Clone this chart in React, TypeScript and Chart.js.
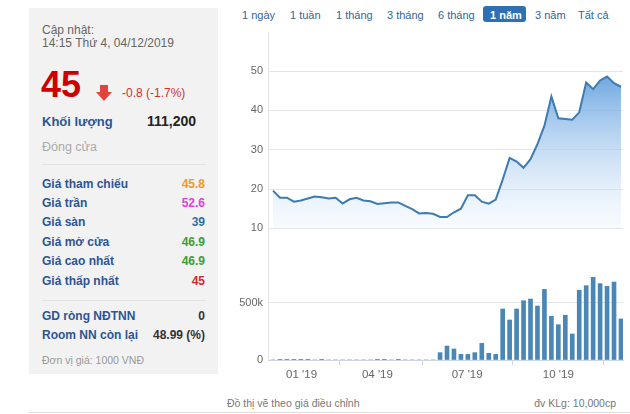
import React, { useEffect, useRef } from "react";
import { Chart, registerables } from "chart.js";

Chart.register(...registerables);

// Weekly closing price (thousand VND)
const priceValues: number[] = [
  19.6, 17.8, 17.8, 16.8, 17.1, 17.6, 18.1, 17.9, 17.6, 17.8,
  16.3, 17.4, 17.8, 17.1, 16.9, 16.2, 16.4, 16.6, 16.6, 15.7,
  14.9, 13.8, 13.9, 13.7, 12.9, 12.9, 14.1, 15.0, 18.4, 18.4,
  16.8, 16.3, 17.3, 22.4, 27.9, 27.0, 25.4, 27.6, 31.4, 36.1,
  43.5, 38.0, 37.8, 37.6, 39.5, 47.1, 45.4, 47.6, 48.6, 46.9,
  46.0,
];

// Weekly volume
const volumeValues: number[] = [
  0, 6000, 6000, 6000, 6000, 6000, 0, 6000, 0, 0,
  0, 0, 0, 0, 0, 6000, 6000, 0, 6000, 0,
  0, 0, 0, 0, 64000, 122000, 96000, 49000, 49000, 64000,
  145000, 58000, 49000, 445000, 349000, 445000, 517000, 532000, 471000, 616000,
  381000, 308000, 390000, 227000, 608000, 648000, 721000, 666000, 642000, 680000,
  358000,
];

const xTickPositions: number[] = [4.1, 15, 27.9, 41];
const xTickLabels: string[] = ["01 '19", "04 '19", "07 '19", "10 '19"];
const priceTicks: number[] = [10, 20, 30, 40, 50];
const volumeTicks: number[] = [0, 500000];

const rangeButtons: string[] = ["1 ngày", "1 tuần", "1 tháng", "3 tháng", "6 tháng", "1 năm", "3 năm", "Tất cả"];

const FONT = "'Liberation Sans', Arial, sans-serif";
const X_MIN = -0.72;
const X_MAX = 50.29;

function PriceChart() {
  const ref = useRef<HTMLCanvasElement | null>(null);
  useEffect(() => {
    if (!ref.current) return;
    const chart = new Chart(ref.current, {
      type: "line",
      data: {
        datasets: [
          {
            data: priceValues.map((v, i) => ({ x: i, y: v })),
            borderColor: "#3d7bb2",
            borderWidth: 2,
            pointRadius: 0,
            tension: 0,
            fill: "start",
            backgroundColor: (context: any) => {
              const { ctx, chartArea } = context.chart;
              if (!chartArea) return "rgba(100,160,220,0.4)";
              const g = ctx.createLinearGradient(0, chartArea.top, 0, chartArea.bottom);
              g.addColorStop(0, "rgba(96,158,222,0.95)");
              g.addColorStop(1, "rgba(225,238,251,0.25)");
              return g;
            },
          },
        ],
      },
      options: {
        animation: false,
        responsive: false,
        layout: { padding: { top: 21, right: 7, bottom: 11, left: 0 } },
        plugins: { legend: { display: false }, tooltip: { enabled: false } },
        scales: {
          x: { type: "linear", min: X_MIN, max: X_MAX, display: false },
          y: {
            min: 10,
            max: 50,
            afterBuildTicks: (s: any) => {
              s.ticks = priceTicks.map((v) => ({ value: v }));
            },
            afterFit: (s: any) => {
              s.width = 43;
            },
            ticks: { padding: 5, color: "#666", font: { size: 11, family: FONT } },
            grid: { color: "#e6e6e6", drawTicks: false },
            border: { display: false },
          },
        },
      },
    } as any);
    return () => chart.destroy();
  }, []);
  return (
    <canvas
      ref={ref}
      width={405}
      height={190}
      style={{ position: "absolute", left: 225, top: 50, width: 405, height: 190 }}
    />
  );
}

function VolumeChart() {
  const ref = useRef<HTMLCanvasElement | null>(null);
  useEffect(() => {
    if (!ref.current) return;
    const chart = new Chart(ref.current, {
      type: "bar",
      data: {
        datasets: [
          {
            data: volumeValues.map((v, i) => ({ x: i, y: v })),
            backgroundColor: "#4a87b6",
            barThickness: 4,
          },
        ],
      },
      options: {
        animation: false,
        responsive: false,
        layout: { padding: { top: 14, right: 7, bottom: 0, left: 0 } },
        plugins: { legend: { display: false }, tooltip: { enabled: false } },
        scales: {
          x: {
            type: "linear",
            min: X_MIN,
            max: X_MAX,
            offset: false,
            afterBuildTicks: (s: any) => {
              s.ticks = xTickPositions.map((v) => ({ value: v }));
            },
            afterFit: (s: any) => {
              s.height = 30;
            },
            ticks: {
              autoSkip: false,
              maxRotation: 0,
              padding: 3,
              color: "#666",
              font: { size: 11.5, family: FONT },
              callback: (_v: any, i: number) => xTickLabels[i],
            },
            grid: { drawOnChartArea: false, drawTicks: true, tickLength: 5, color: "#ccd6eb" },
            border: { display: true, color: "#ccd6eb" },
          },
          y: {
            min: 0,
            max: 750000,
            afterBuildTicks: (s: any) => {
              s.ticks = volumeTicks.map((v) => ({ value: v }));
            },
            afterFit: (s: any) => {
              s.width = 43;
            },
            ticks: {
              padding: 5,
              color: "#666",
              font: { size: 11, family: FONT },
              callback: (v: any) => (v === 0 ? "0" : v / 1000 + "k"),
            },
            grid: { color: "#e6e6e6", drawTicks: false },
            border: { display: false },
          },
        },
      },
    } as any);
    return () => chart.destroy();
  }, []);
  return (
    <canvas
      ref={ref}
      width={405}
      height={130}
      style={{ position: "absolute", left: 225, top: 260, width: 405, height: 130 }}
    />
  );
}

const T = (props: {
  x: number;
  cy: number;
  size: number;
  color: string;
  bold?: boolean;
  right?: boolean;
  children: React.ReactNode;
}) => {
  const lh = Math.round(props.size * 1.3);
  const style: React.CSSProperties = {
    position: "absolute",
    top: props.cy - lh / 2,
    height: lh,
    lineHeight: lh + "px",
    fontSize: props.size,
    color: props.color,
    fontWeight: props.bold ? "bold" : "normal",
    whiteSpace: "nowrap",
  };
  if (props.right) style.right = 630 - props.x;
  else style.left = props.x;
  return <div style={style}>{props.children}</div>;
};

const LABEL = "#2d5592";

const rows: { label: string; value: string; color: string; cy: number }[] = [
  { label: "Giá tham chiếu", value: "45.8", color: "#f39a1e", cy: 184 },
  { label: "Giá trần", value: "52.6", color: "#df3fdf", cy: 203 },
  { label: "Giá sàn", value: "39", color: "#2f6fa6", cy: 222 },
  { label: "Giá mở cửa", value: "46.9", color: "#3a9f35", cy: 242 },
  { label: "Giá cao nhất", value: "46.9", color: "#3a9f35", cy: 261 },
  { label: "Giá thấp nhất", value: "45", color: "#d22b2b", cy: 281 },
];

const buttonX: number[] = [242, 290, 336, 387, 438, 490, 535, 578];

export default function App() {
  return (
    <div
      style={{
        position: "absolute",
        left: 0,
        top: 0,
        width: 630,
        height: 414,
        background: "#fff",
        fontFamily: FONT,
        overflow: "hidden",
      }}
    >
      {/* left info panel */}
      <div style={{ position: "absolute", left: 29, top: 8, width: 189, height: 366, background: "#f2f2f2" }} />
      <T x={42} cy={30} size={12} color="#666">Cập nhật:</T>
      <T x={42} cy={43} size={12} color="#666">14:15 Thứ 4, 04/12/2019</T>
      <T x={41} cy={84} size={36} color="#cc0000" bold>45</T>
      {/* down arrow */}
      <div style={{ position: "absolute", left: 100, top: 85, width: 8, height: 8, background: "#e0443c" }} />
      <div
        style={{
          position: "absolute",
          left: 96,
          top: 92,
          width: 0,
          height: 0,
          borderLeft: "8px solid transparent",
          borderRight: "8px solid transparent",
          borderTop: "9px solid #e0443c",
        }}
      />
      <T x={122} cy={93} size={12} color="#d0312d">-0.8 (-1.7%)</T>
      <T x={42} cy={121} size={13} color={LABEL} bold>Khối lượng</T>
      <T x={196} cy={121} size={14} color="#222" bold right>111,200</T>
      <T x={42} cy={147} size={12.5} color="#aaa">Đóng cửa</T>
      <div style={{ position: "absolute", left: 42, top: 164, width: 164, height: 1, background: "#e4e4e4" }} />
      {rows.map((r) => (
        <React.Fragment key={r.label}>
          <T x={42} cy={r.cy} size={12} color={LABEL} bold>{r.label}</T>
          <T x={205} cy={r.cy} size={12} color={r.color} bold right>{r.value}</T>
        </React.Fragment>
      ))}
      <div style={{ position: "absolute", left: 42, top: 300, width: 164, height: 1, background: "#e4e4e4" }} />
      <T x={42} cy={316} size={12} color={LABEL} bold>GD ròng NĐTNN</T>
      <T x={205} cy={316} size={12} color="#333" bold right>0</T>
      <T x={42} cy={335} size={12} color={LABEL} bold>Room NN còn lại</T>
      <T x={205} cy={335} size={12} color="#333" bold right>48.99 (%)</T>
      <T x={42} cy={360} size={10.5} color="#999">Đơn vị giá: 1000 VNĐ</T>

      {/* range buttons */}
      <div style={{ position: "absolute", left: 483, top: 6, width: 43, height: 16, background: "#2f6fb3", borderRadius: 3 }} />
      {rangeButtons.map((b, i) => (
        <T key={b} x={buttonX[i]} cy={15} size={11} color={b === "1 năm" ? "#fff" : "#33639b"} bold={b === "1 năm"}>
          {b}
        </T>
      ))}

      {/* chart left border */}
      <div style={{ position: "absolute", left: 268, top: 32, width: 1, height: 328, background: "#e3e3e3" }} />

      <PriceChart />
      <VolumeChart />

      <T x={227} cy={403} size={10.5} color="#777">Đồ thị vẽ theo giá điều chỉnh</T>
      <T x={616} cy={403} size={10.5} color="#777" right>đv KLg: 10,000cp</T>
      <div style={{ position: "absolute", left: 29, top: 412, width: 601, height: 1, background: "#ddd" }} />
    </div>
  );
}
